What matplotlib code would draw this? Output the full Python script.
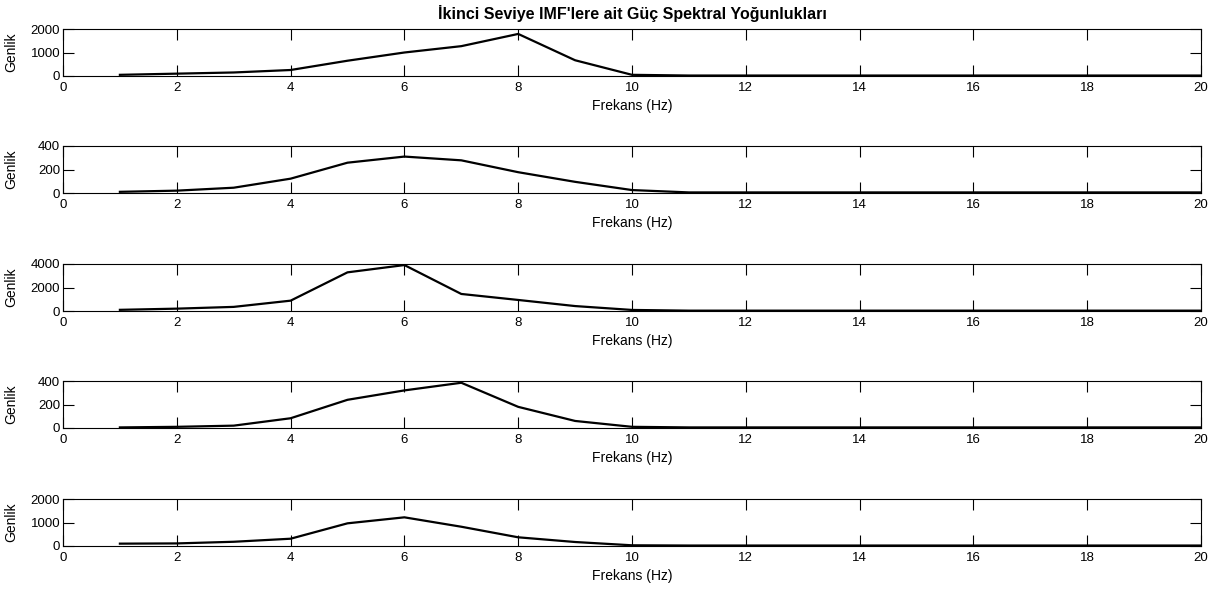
import numpy as np
import matplotlib
matplotlib.use("Agg")
import matplotlib.pyplot as plt

plt.rcParams['font.family'] = ['Liberation Sans', 'DejaVu Sans']

# frequency bins (Hz)
freq = np.arange(1, 21)

# power spectral density of each second-level IMF
psd1 = [50, 100, 150, 255, 650, 1000, 1270, 1790, 670, 50, 20, 20, 20, 20, 20, 20, 20, 20, 20, 20]
psd2 = [10, 20, 45, 122, 258, 310, 278, 177, 95, 25, 5, 5, 5, 5, 5, 5, 5, 5, 5, 5]
psd3 = [100, 200, 350, 880, 3290, 3910, 1450, 940, 420, 90, 30, 30, 30, 30, 30, 30, 30, 30, 30, 30]
psd4 = [5, 10, 20, 83, 240, 320, 385, 180, 60, 10, 5, 5, 5, 5, 5, 5, 5, 5, 5, 5]
psd5 = [100, 110, 180, 310, 965, 1220, 820, 370, 170, 30, 20, 20, 20, 20, 20, 20, 20, 20, 20, 20]

series = [psd1, psd2, psd3, psd4, psd5]
ylims = [2000, 400, 4000, 400, 2000]

fig = plt.figure(figsize=(12.14, 5.92), dpi=100)

left = 63 / 1214
width = (1201 - 63) / 1214
tops = [29, 146, 264, 381, 499]
h = 47

for k in range(5):
    bottom = 1 - (tops[k] + h) / 592
    ax = fig.add_axes([left, bottom, width, h / 592])
    ax.plot(freq, series[k], color='black', lw=1.6)
    ax.set_xlim(0, 20)
    ax.set_ylim(0, ylims[k])
    ax.set_xticks(np.arange(0, 21, 2))
    ax.set_yticks([0, ylims[k] / 2, ylims[k]])
    ax.set_yticklabels(['0', str(ylims[k] // 2), str(ylims[k])])
    ax.tick_params(direction='in', length=8, width=0.8, top=True, right=True,
                   labelsize=9.5, pad=2)
    ax.tick_params(axis='x', pad=4)
    for s in ax.spines.values():
        s.set_linewidth(0.8)
    ax.set_xlabel('Frekans (Hz)', fontsize=10, labelpad=4)
    ax.set_ylabel('Genlik', fontsize=10)
    ax.yaxis.set_label_coords(-0.039, 0.5)
    if k == 0:
        ax.set_title("İkinci Seviye IMF'lere ait Güç Spektral Yoğunlukları",
                     fontsize=11.5, fontweight='bold', pad=7)

fig.savefig('out.png', dpi=100)
